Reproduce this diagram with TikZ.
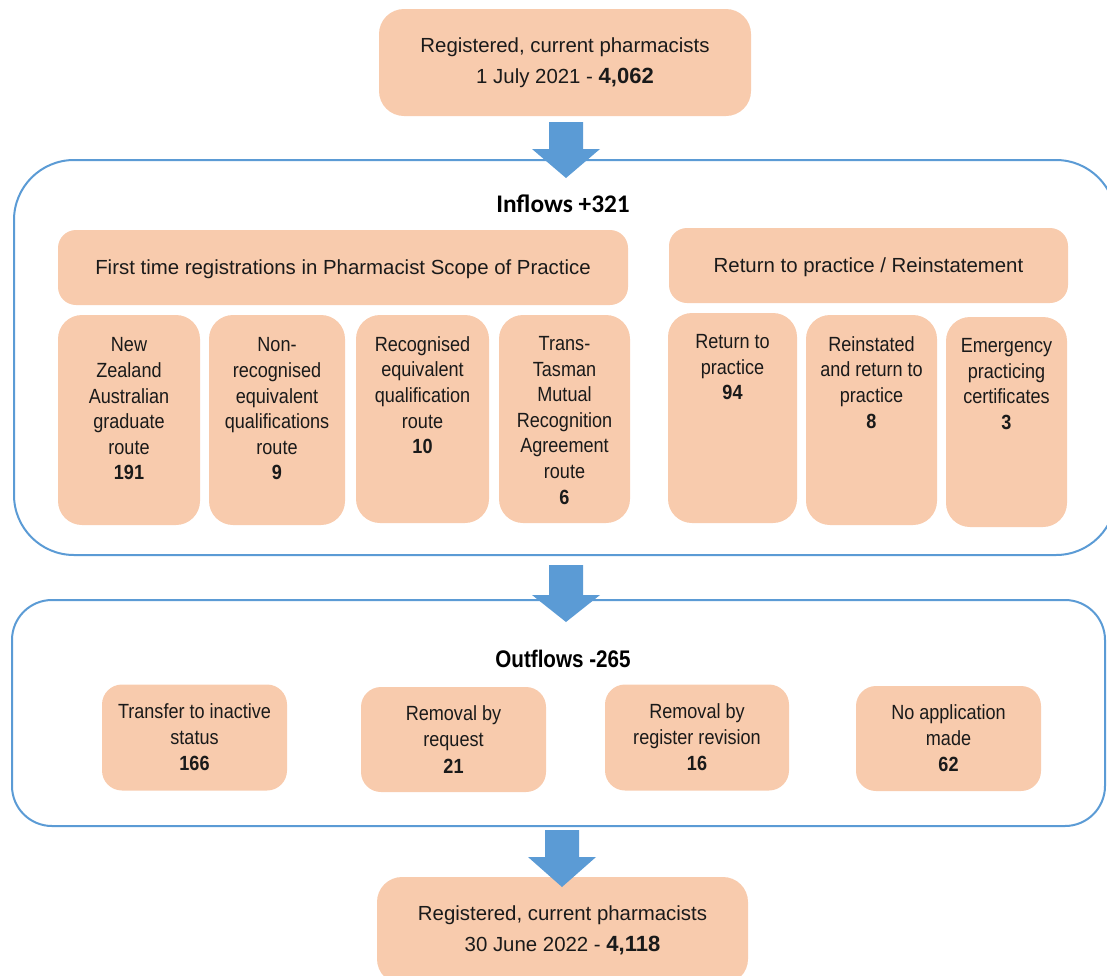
\documentclass[tikz,border=0pt]{standalone}
\usepackage{fontspec}
\setmainfont{Liberation Sans}
\newfontfamily\narrowfont[FakeStretch=0.88]{Liberation Sans}
\newfontfamily\outfont[FakeStretch=0.86]{Liberation Sans}
\newfontfamily\calfont{Carlito}
\definecolor{peach}{HTML}{F8CBAD}
\definecolor{flowblue}{HTML}{5B9BD5}
\definecolor{textc}{HTML}{1A1A1A}
\newcommand{\blockarrow}[5]{% cx, top, headstart, tip, scale
  \fill[flowblue] (#1-17*#5,#2) -- (#1+17*#5,#2) -- (#1+17*#5,#3) -- (#1+34*#5,#3) -- (#1,#4) -- (#1-34*#5,#3) -- (#1-17*#5,#3) -- cycle;}
\begin{document}
\begin{tikzpicture}[x=0.75pt,y=-0.75pt,
  pbox/.style={fill=peach, draw=none, inner sep=0pt},
  bigbox/.style={pbox, rounded corners=18.75pt, align=center, text=textc,
    font=\fontsize{15.3}{23}\selectfont},
  headbox/.style={pbox, rounded corners=13.5pt, align=center, text=textc, text depth=0pt,
    font=\fontsize{15.3}{19}\selectfont},
  smallbox/.style={pbox, rounded corners=18pt},
  smalltxt/.style={anchor=north, inner sep=0pt, align=center, text=textc,
    font=\narrowfont\fontsize{15.4}{19.2}\selectfont},
  outbox/.style={pbox, rounded corners=15pt, align=center, text=textc,
    font=\narrowfont\fontsize{15.4}{19.6}\selectfont},
  container/.style={draw=flowblue, line width=1.5pt, fill=none, inner sep=0pt},
  title/.style={inner sep=0pt, text=black}
]
\useasboundingbox (0,0) rectangle (1107,975);
\clip (0,0) rectangle (1107,975);

% containers
\node[container, rounded corners=45pt, minimum width=826.5pt, minimum height=296.25pt] (inflow) at (565,357.5) {};
\node[container, rounded corners=30pt, minimum width=819.75pt, minimum height=169.5pt] (outflow) at (558.5,713) {};

% start / end
\node[bigbox, minimum width=279pt, minimum height=80.25pt] (start) at (565,62.5)
  {Registered, current pharmacists\\1 July 2021 - {\fontsize{16.5}{23}\selectfont\bfseries 4,062}};
\node[bigbox, minimum width=278.25pt, minimum height=80.25pt] (finish) at (562.5,930.5)
  {Registered, current pharmacists\\30 June 2022 - {\fontsize{16.5}{23}\selectfont\bfseries 4,118}};

% titles
\node[title, font=\calfont\bfseries\fontsize{19}{22}\selectfont] (intitle) at (563,204) {Inflows +321};
\node[title, font=\outfont\bfseries\fontsize{18}{20}\selectfont] (outtitle) at (563,659) {Outflows -265};

% headers
\node[headbox, minimum width=427.5pt, minimum height=56.25pt] (h1) at (343,267.5)
  {First time registrations in Pharmacist Scope of Practice};
\node[headbox, minimum width=299.25pt, minimum height=56.25pt] (h2) at (868.5,265.5)
  {Return to practice / Reinstatement};

% small inflow boxes
\node[smallbox, minimum width=106.5pt, minimum height=157.5pt] (b1) at (129,420) {};
\node[smallbox, minimum width=102pt, minimum height=157.5pt] (b2) at (277,420) {};
\node[smallbox, minimum width=99.75pt, minimum height=156pt] (b3) at (422.5,419) {};
\node[smallbox, minimum width=98.25pt, minimum height=156pt] (b4) at (564.5,419) {};
\node[smallbox, minimum width=96.75pt, minimum height=157.5pt] (b5) at (732.5,418) {};
\node[smallbox, minimum width=98.25pt, minimum height=157.5pt] (b6) at (871.5,420) {};
\node[smallbox, minimum width=90.75pt, minimum height=157.5pt] (b7) at (1006.5,422) {};

\node[smalltxt] (b1t) at ([yshift=-17pt]b1.north) {New\\Zealand\\Australian\\graduate\\route\\\textbf{191}};
\node[smalltxt] (b2t) at ([yshift=-17pt]b2.north) {Non-\\recognised\\equivalent\\qualifications\\route\\\textbf{9}};
\node[smalltxt] (b3t) at ([yshift=-16pt]b3.north) {Recognised\\equivalent\\qualification\\route\\\textbf{10}};
\node[smalltxt] (b4t) at ([yshift=-16pt]b4.north) {Trans-\\Tasman\\Mutual\\Recognition\\Agreement\\route\\\textbf{6}};
\node[smalltxt] (b5t) at ([yshift=-16pt]b5.north) {Return to\\practice\\\textbf{94}};
\node[smalltxt] (b6t) at ([yshift=-16pt]b6.north) {Reinstated\\and return to\\practice\\\textbf{8}};
\node[smalltxt] (b7t) at ([yshift=-16pt]b7.north) {Emergency\\practicing\\certificates\\\textbf{3}};

% outflow boxes
\node[outbox, minimum width=138.75pt, minimum height=79.5pt] (o1) at (194.5,737.5) {Transfer to inactive\\status\\\textbf{166}};
\node[outbox, minimum width=138.75pt, minimum height=78.75pt] (o2) at (453.5,739.5) {Removal by\\request\\\textbf{21}};
\node[outbox, minimum width=138pt, minimum height=79.5pt] (o3) at (697,737.5) {Removal by\\register revision\\\textbf{16}};
\node[outbox, minimum width=138.75pt, minimum height=78.75pt] (o4) at (948.5,738.5) {No application\\made\\\textbf{62}};

% block arrows
\blockarrow{566}{122}{149}{178}{1}
\blockarrow{566}{565}{595}{622}{1}
\blockarrow{562}{830}{857}{887}{1}
\end{tikzpicture}
\end{document}
